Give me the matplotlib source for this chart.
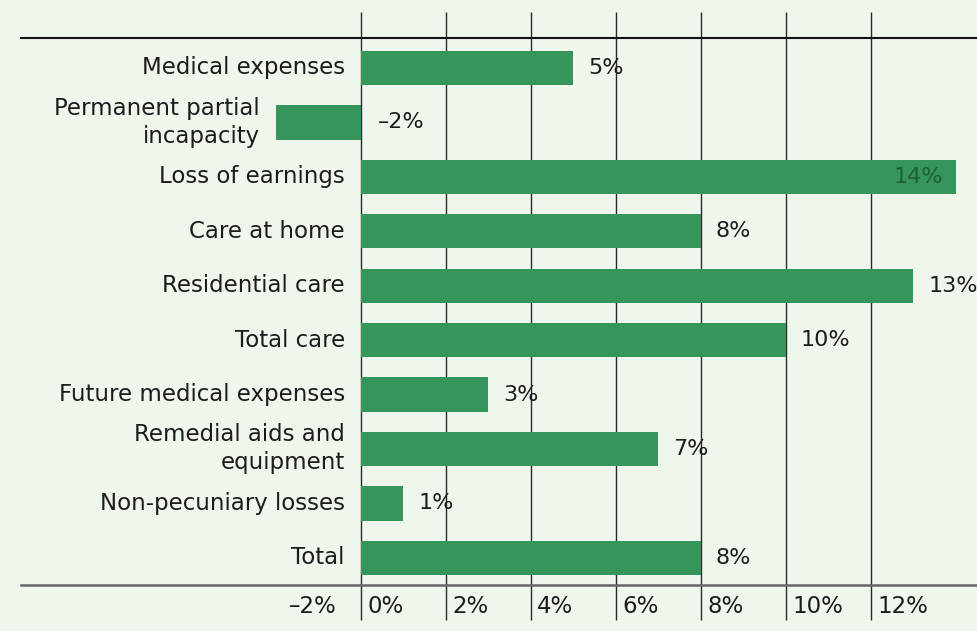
import matplotlib
matplotlib.use("Agg")
import matplotlib.pyplot as plt

categories = ["Medical expenses", "Permanent partial\nincapacity", "Loss of earnings",
              "Care at home", "Residential care", "Total care", "Future medical expenses",
              "Remedial aids and\nequipment", "Non-pecuniary losses", "Total"]
values = [5, -2, 14, 8, 13, 10, 3, 7, 1, 8]
value_labels = ["5%", "\u20132%", "14%", "8%", "13%", "10%", "3%", "7%", "1%", "8%"]
ticks = [-2, 0, 2, 4, 6, 8, 10, 12]
tick_labels = ["\u20132%", "0%", "2%", "4%", "6%", "8%", "10%", "12%"]

bg = "#eff6ec"
bar_color = "#36955b"
text_color = "#1c1c1c"
fs_cat = 16.5
fs_val = 16
fs_tick = 16.5

plt.rcParams['font.family'] = ['DejaVu Sans']
fig = plt.figure(figsize=(9.77, 6.31), dpi=100, facecolor=bg)
ax = fig.add_axes([21/977, 46/631, 956/977, 547/631])
ax.set_facecolor(bg)
ax.set_xlim(-8, 14.5)
ax.set_ylim(9.5, -0.55)

for s in ["left", "right"]:
    ax.spines[s].set_visible(False)
ax.spines["top"].set_color("#111111")
ax.spines["top"].set_linewidth(1.5)
ax.spines["bottom"].set_color("#666666")
ax.spines["bottom"].set_linewidth(1.8)
ax.set_xticks([])
ax.set_yticks([])

# gridlines
for t in ticks:
    if t < 0:
        continue
    ax.vlines(t, -1.03, 10.15, color="#2a2a2a", lw=1.0, zorder=1, clip_on=False)

rows = list(range(len(categories)))
ax.barh(rows, values, height=0.63, color=bar_color, zorder=2)

for r, v, cat, lab in zip(rows, values, categories, value_labels):
    left = min(0, v)
    ax.text(left - 0.38, r, cat, ha="right", va="center", fontsize=fs_cat,
            color=text_color, linespacing=1.28, zorder=3)
    if v >= 14:
        ax.text(v - 0.3, r, lab, ha="right", va="center", fontsize=fs_val,
                color="#1f5f36", zorder=3)
    elif v < 0:
        ax.text(0.4, r, lab, ha="left", va="center", fontsize=fs_val,
                color=text_color, zorder=3)
    else:
        ax.text(v + 0.35, r, lab, ha="left", va="center", fontsize=fs_val,
                color=text_color, zorder=3)

for t, lab in zip(ticks, tick_labels):
    off = 0.3 if t < 0 else 0.15
    ax.text(t + off, 9.9, lab, ha="left", va="center", fontsize=fs_tick,
            color=text_color, clip_on=False)

fig.savefig("out.png", dpi=100, facecolor=bg)
